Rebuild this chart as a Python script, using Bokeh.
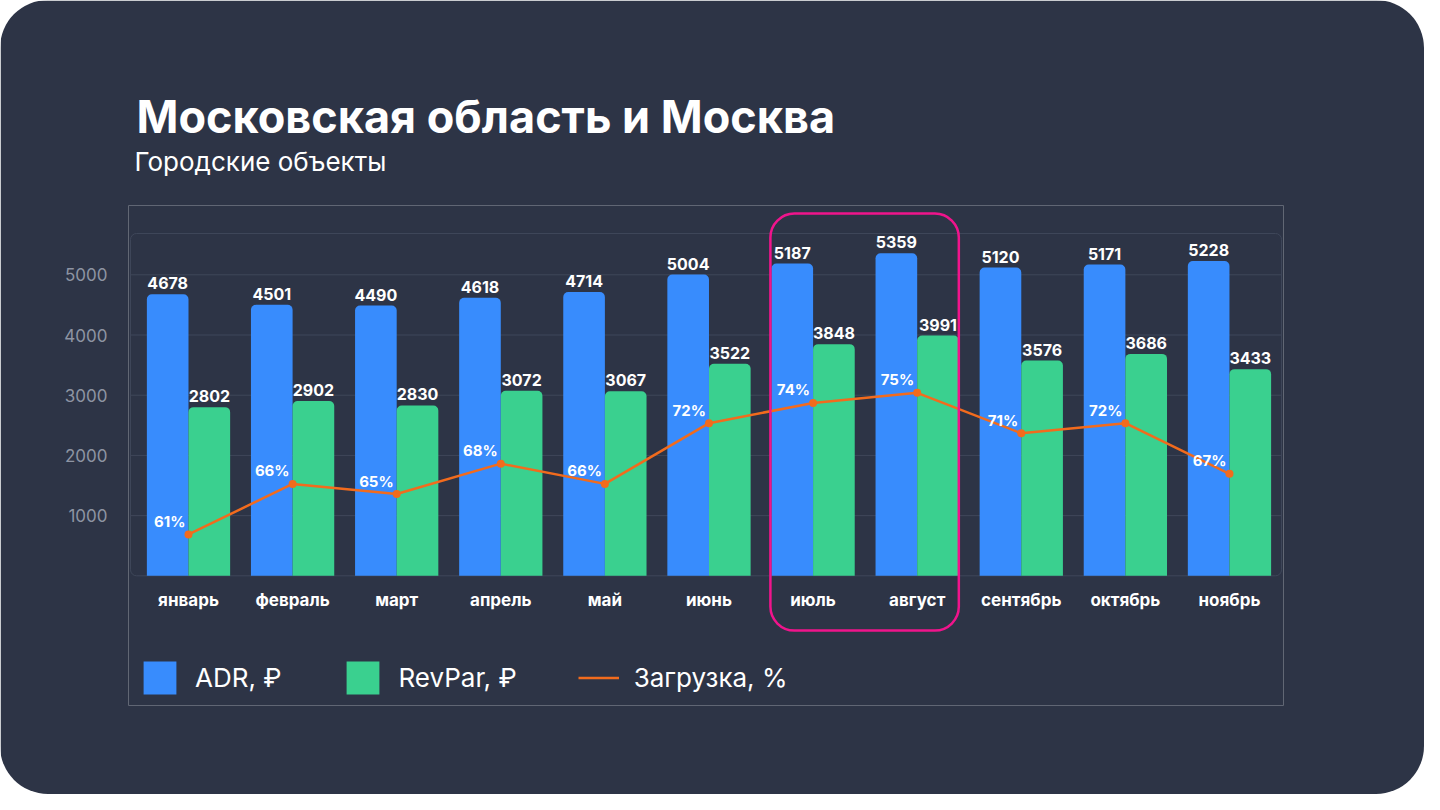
import numpy as np
from bokeh.plotting import figure
from bokeh.models import (Range1d, FixedTicker, Title, Legend, LegendItem,
                          BoxAnnotation, ColumnDataSource)
from bokeh.core.properties import value
from bokeh.embed import file_html
from bokeh.resources import INLINE

# ---------------- data ----------------
months = ["январь", "февраль", "март", "апрель", "май", "июнь",
          "июль", "август", "сентябрь", "октябрь", "ноябрь"]
adr = [4678, 4501, 4490, 4618, 4714, 5004, 5187, 5359, 5120, 5171, 5228]
revpar = [2802, 2902, 2830, 3072, 3067, 3522, 3848, 3991, 3576, 3686, 3433]
load = [61, 66, 65, 68, 66, 72, 74, 75, 71, 72, 67]
y_ticks = [1000, 2000, 3000, 4000, 5000]
highlight = ["июль", "август"]

title_text = "Московская область и Москва"
subtitle_text = "Городские объекты"
legend_labels = ["ADR, ₽", "RevPar, ₽", "Загрузка, %"]

# ---------------- style ----------------
BG = "#2d3446"
BLUE = "#388cfd"
GREEN = "#3ad08f"
ORANGE = "#f26b1d"
PINK = "#f0148c"
GRID = "#3f475a"
TICK = "#8e94a3"
FONT = "Inter"

# visible plot panel (data units) inside the larger drawing frame
PANEL_X = (-0.557, 10.5)
PANEL_Y = (0, 5686)

x = np.arange(len(months))
src = ColumnDataSource(dict(
    x=x, xb=x - 0.2, xg=x + 0.2, zero=np.zeros(len(months)),
    adr=adr, revpar=revpar, load=load, months=months,
    adr_t=[str(v) for v in adr],
    rev_t=[str(v) for v in revpar],
    load_t=[f"{v}%" for v in load],
))

p = figure(width=1424, height=794, output_backend="svg", toolbar_location=None,
           x_range=Range1d(-0.5764, 10.519), y_range=Range1d(-2154, 6151),
           min_border_left=128, min_border_right=141,
           min_border_top=205, min_border_bottom=89,
           background_fill_color=BG, border_fill_color=BG,
           outline_line_color=None)
p.styles = {"border-radius": "48px", "overflow": "hidden"}
p.extra_y_ranges = {"pct": Range1d(44.10, 93.51)}

# grid lines drawn inside the panel only
p.xgrid.visible = False
p.ygrid.visible = False
p.segment(x0=[PANEL_X[0]] * len(y_ticks), y0=y_ticks,
          x1=[PANEL_X[1]] * len(y_ticks), y1=y_ticks,
          line_color=GRID, line_width=1, level="underlay")

# axes
p.xaxis.visible = False
ya = p.yaxis[0]
ya.ticker = FixedTicker(ticks=y_ticks)
ya.axis_line_color = None
ya.major_tick_line_color = None
ya.minor_tick_line_color = None
ya.major_label_standoff = 15
ya.major_label_text_color = TICK
ya.major_label_text_font = FONT
ya.major_label_text_font_size = "17px"

# plot panel border (rounded)
p.quad(left=[PANEL_X[0]], right=[PANEL_X[1]], bottom=[PANEL_Y[0]],
       top=[PANEL_Y[1]], fill_alpha=0, line_color=GRID, line_width=1,
       border_radius=6, level="underlay")

# bars
r_blue = p.vbar(x="xb", top="adr", width=0.4, bottom=0, source=src,
                fill_color=BLUE, line_color=None, border_radius=(5, 5, 0, 0))
r_green = p.vbar(x="xg", top="revpar", width=0.4, bottom=0, source=src,
                 fill_color=GREEN, line_color=None, border_radius=(5, 5, 0, 0))

# line
r_line = p.line(x="x", y="load", source=src, y_range_name="pct",
                line_color=ORANGE, line_width=2.5)
p.scatter(x="x", y="load", source=src, y_range_name="pct", size=8,
          fill_color=ORANGE, line_color=None)

# value labels
p.text(x="xb", y="adr", text="adr_t", source=src, text_align="center",
       text_baseline="bottom", y_offset=-5, text_color="white",
       text_font=value(FONT), text_font_style="bold", text_font_size="16px")
p.text(x="xg", y="revpar", text="rev_t", source=src, text_align="center",
       text_baseline="bottom", y_offset=-5, text_color="white",
       text_font=value(FONT), text_font_style="bold", text_font_size="16px")
p.text(x="x", y="load", text="load_t", source=src, y_range_name="pct",
       text_align="right", text_baseline="middle", x_offset=-3, y_offset=-13,
       text_color="white", text_font=value(FONT), text_font_style="bold",
       text_font_size="15px")

# month labels (category axis)
p.text(x="x", y="zero", text="months", source=src, text_align="center",
       text_baseline="middle", y_offset=24, text_color="white",
       text_font=value(FONT), text_font_style="bold", text_font_size="17px")

# highlight box
hi = [months.index(m) for m in highlight]
p.add_layout(BoxAnnotation(left=min(hi) - 0.41, right=max(hi) + 0.40,
                           bottom=-909, top=6018, fill_alpha=0,
                           line_color=PINK, line_alpha=1, line_width=2.5,
                           border_radius=24))

# titles (main title outermost; then subtitle; then a spacer next to frame)
p.title.text = title_text
p.title.text_font = FONT
p.title.text_font_size = "45px"
p.title.text_font_style = "bold"
p.title.text_color = "white"
p.title.align = "left"
p.title.offset = 8
p.title.standoff = 0
p.add_layout(Title(text=" ", text_font_size="1px", standoff=26), "above")
p.add_layout(Title(text=subtitle_text, text_font=FONT, text_font_size="26px",
                   text_font_style="normal", text_color="white", align="left",
                   offset=6, standoff=0), "above")

# legend
legend = Legend(items=[LegendItem(label=legend_labels[0], renderers=[r_blue]),
                       LegendItem(label=legend_labels[1], renderers=[r_green]),
                       LegendItem(label=legend_labels[2], renderers=[r_line])],
                orientation="horizontal", location=(11, 7), margin=0, padding=0,
                spacing=61, glyph_width=41, glyph_height=41, label_standoff=15,
                label_text_font=FONT, label_text_font_size="26px",
                label_text_color="white", background_fill_alpha=0,
                border_line_alpha=0)
p.add_layout(legend)

open("out.html", "w").write(file_html(p, INLINE))
